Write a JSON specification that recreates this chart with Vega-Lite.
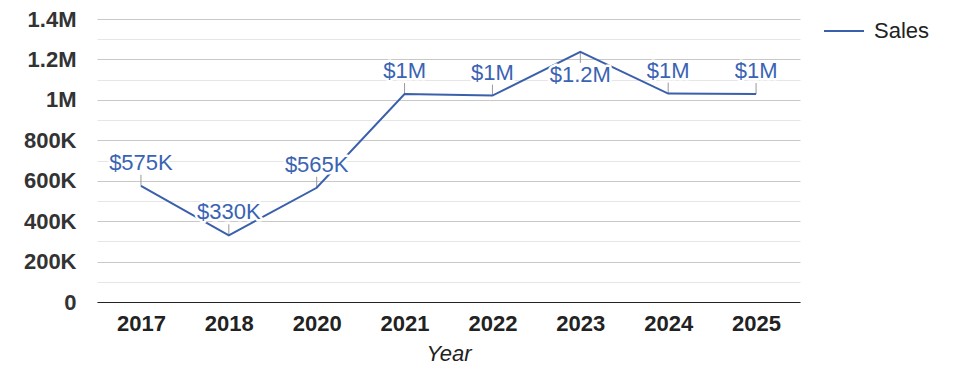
{
  "$schema": "https://vega.github.io/schema/vega-lite/v6.json",
  "width": 703,
  "height": 283,
  "autosize": "none",
  "padding": {"left": 97, "top": 19, "right": 175, "bottom": 76},
  "background": "white",
  "config": {"view": {"stroke": null}, "font": "Liberation Sans"},
  "data": {"values": [
    {"Year": "2017", "Sales": 575000, "label": "$575K"},
    {"Year": "2018", "Sales": 330000, "label": "$330K"},
    {"Year": "2020", "Sales": 565000, "label": "$565K"},
    {"Year": "2021", "Sales": 1029000, "label": "$1M"},
    {"Year": "2022", "Sales": 1021000, "label": "$1M"},
    {"Year": "2023", "Sales": 1237000, "label": "$1.2M"},
    {"Year": "2024", "Sales": 1031000, "label": "$1M"},
    {"Year": "2025", "Sales": 1029000, "label": "$1M"}
  ]},
  "encoding": {
    "x": {
      "field": "Year", "type": "ordinal",
      "sort": ["2017", "2018", "2020", "2021", "2022", "2023", "2024", "2025"],
      "scale": {"type": "point", "padding": 0.5},
      "axis": {
        "labelAngle": 0, "labelFontSize": 22, "labelFontWeight": "bold", "labelColor": "#222",
        "labelPadding": 11, "ticks": false, "grid": false,
        "domain": true, "domainColor": "#222", "domainWidth": 1,
        "title": "Year", "titleFontStyle": "italic", "titleFontWeight": "normal",
        "titleFontSize": 22, "titleColor": "#222", "titlePadding": 9
      }
    },
    "y": {
      "field": "Sales", "type": "quantitative",
      "scale": {"domain": [0, 1400000], "nice": false, "zero": true},
      "axis": {
        "values": [0, 100000, 200000, 300000, 400000, 500000, 600000, 700000, 800000, 900000, 1000000, 1100000, 1200000, 1300000, 1400000],
        "labelExpr": "datum.value % 200000 != 0 ? '' : datum.value == 0 ? '0' : datum.value >= 1000000 ? format(datum.value/1000000, '~g') + 'M' : format(datum.value/1000, '~g') + 'K'",
        "labelFontSize": 22, "labelFontWeight": "bold", "labelColor": "#333",
        "labelPadding": 21, "ticks": false, "domain": false, "title": null,
        "grid": true,
        "gridColor": {"condition": {"test": "datum.value % 200000 == 0", "value": "#c8c8c8"}, "value": "#e6e6e6"},
        "gridWidth": 1
      }
    }
  },
  "layer": [
    {
      "transform": [{"filter": "datum.Year != '2023'"}],
      "mark": {"type": "rule", "y2Offset": -11, "color": "#999", "strokeWidth": 1},
      "encoding": {"y2": {"field": "Sales"}}
    },
    {
      "transform": [{"filter": "datum.Year == '2023'"}],
      "mark": {"type": "rule", "y2Offset": 11, "color": "#999", "strokeWidth": 1},
      "encoding": {"y2": {"field": "Sales"}}
    },
    {
      "mark": {"type": "line", "strokeWidth": 2},
      "encoding": {
        "color": {
          "datum": "Sales", "type": "nominal",
          "scale": {"range": ["#3a5fab"]},
          "legend": {
            "orient": "none", "legendX": 726, "legendY": -9, "title": null,
            "symbolType": "stroke", "symbolSize": 1600, "symbolStrokeWidth": 2,
            "labelFontSize": 22, "labelColor": "#222", "labelOffset": 9, "padding": 0
          }
        }
      }
    },
    {
      "transform": [{"filter": "datum.Year != '2023'"}],
      "mark": {"type": "text", "fontSize": 22, "color": "white", "stroke": "white", "strokeWidth": 5, "strokeJoin": "round", "baseline": "alphabetic", "dy": -16},
      "encoding": {"text": {"field": "label"}}
    },
    {
      "transform": [{"filter": "datum.Year == '2023'"}],
      "mark": {"type": "text", "fontSize": 22, "color": "white", "stroke": "white", "strokeWidth": 5, "strokeJoin": "round", "baseline": "alphabetic", "dy": 30},
      "encoding": {"text": {"field": "label"}}
    },
    {
      "transform": [{"filter": "datum.Year != '2023'"}],
      "mark": {"type": "text", "fontSize": 22, "color": "#3a63b3", "baseline": "alphabetic", "dy": -16},
      "encoding": {"text": {"field": "label"}}
    },
    {
      "transform": [{"filter": "datum.Year == '2023'"}],
      "mark": {"type": "text", "fontSize": 22, "color": "#3a63b3", "baseline": "alphabetic", "dy": 30},
      "encoding": {"text": {"field": "label"}}
    }
  ]
}
